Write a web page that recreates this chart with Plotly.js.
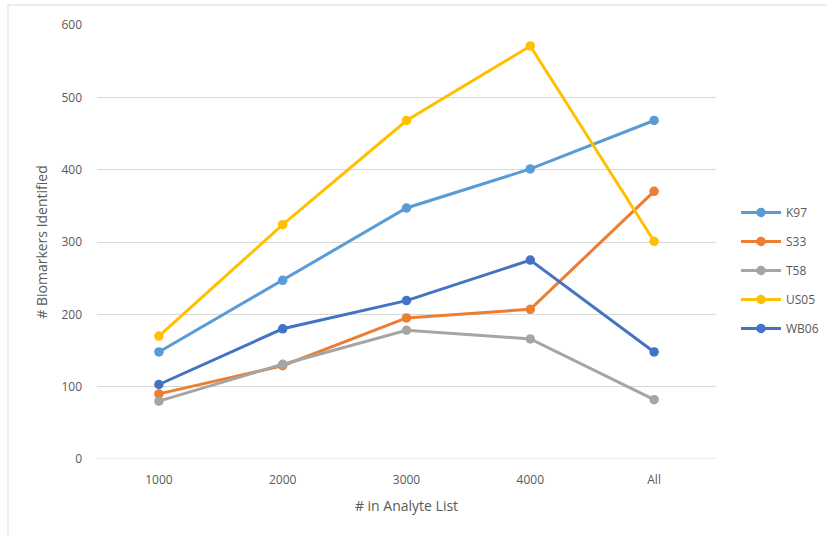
<!DOCTYPE html>
<html>
<head>
<meta charset="utf-8">
<script src="https://cdn.plot.ly/plotly-3.0.1.min.js"></script>
<style>
  html, body { margin: 0; padding: 0; background: #fff; }
  #chart { width: 827px; height: 535px; }
</style>
</head>
<body>
<div id="chart"></div>
<script>
// Analyte list sizes (category axis)
const categories = ['1000', '2000', '3000', '4000', 'All'];

// Biomarkers identified per cohort
const seriesNames = ['K97', 'S33', 'T58', 'US05', 'WB06'];
const k97  = [148, 247, 347, 401, 468];
const s33  = [90, 129, 195, 207, 370];
const t58  = [80, 131, 178, 166, 82];
const us05 = [170, 324, 468, 571, 301];
const wb06 = [103, 180, 219, 275, 148];

const seriesValues = [k97, s33, t58, us05, wb06];
const seriesColors = ['#5b9bd5', '#ed7d31', '#a5a5a5', '#ffc000', '#4472c4'];

const traces = seriesNames.map((name, i) => ({
  x: categories,
  y: seriesValues[i],
  name: name,
  legendgroup: name,
  type: 'scatter',
  mode: 'lines+markers',
  line: { color: seriesColors[i], width: 3 },
  marker: { color: seriesColors[i], size: 9.5 }
}));

const textColor = '#595959';
const W = 827, H = 535;
const m = { l: 97, r: 111, t: 25, b: 76, autoexpand: false };
const pw = W - m.l - m.r, ph = H - m.t - m.b;
const px = v => (v - m.l) / pw;        // pixel -> paper x
const py = v => 1 - (v - m.t) / ph;    // pixel -> paper y

const layout = {
  width: W,
  height: H,
  margin: m,
  paper_bgcolor: '#ffffff',
  plot_bgcolor: '#ffffff',
  font: { family: 'Open Sans, Liberation Sans, sans-serif', color: textColor, size: 12 },
  showlegend: true,
  legend: {
    x: px(736), y: py(198), xanchor: 'left', yanchor: 'top',
    font: { size: 12, color: textColor },
    tracegroupgap: 10,
    itemwidth: 40,
    bgcolor: 'rgba(0,0,0,0)'
  },
  xaxis: {
    type: 'category',
    range: [-0.5, 4.5],
    showgrid: false,
    zeroline: false,
    showline: false,
    ticks: '',
    ticklabelstandoff: 12,
    tickfont: { size: 12, color: textColor },
    title: { text: '# in Analyte List', font: { size: 14, color: textColor }, standoff: 14 },
    fixedrange: true
  },
  yaxis: {
    range: [0, 600],
    dtick: 100,
    showgrid: true,
    gridcolor: '#d9d9d9',
    gridwidth: 1,
    zeroline: false,
    showline: false,
    ticks: '',
    ticklabelstandoff: 14,
    tickfont: { size: 12, color: textColor },
    title: { text: '# Biomarkers Identified', font: { size: 14, color: textColor }, standoff: 10 },
    fixedrange: true
  },
  shapes: [
    // outer chart frame
    {
      type: 'rect', xref: 'paper', yref: 'paper',
      x0: px(8), x1: px(840), y0: py(5), y1: py(545),
      line: { color: '#d9d9d9', width: 1 },
      fillcolor: 'rgba(0,0,0,0)', layer: 'below'
    },
    // baseline at zero
    {
      type: 'line', xref: 'paper', yref: 'y',
      x0: 0, x1: 1, y0: 0, y1: 0,
      line: { color: '#d9d9d9', width: 1 }, layer: 'below'
    }
  ]
};

Plotly.newPlot('chart', traces, layout, { displayModeBar: false, staticPlot: true });
</script>
</body>
</html>
